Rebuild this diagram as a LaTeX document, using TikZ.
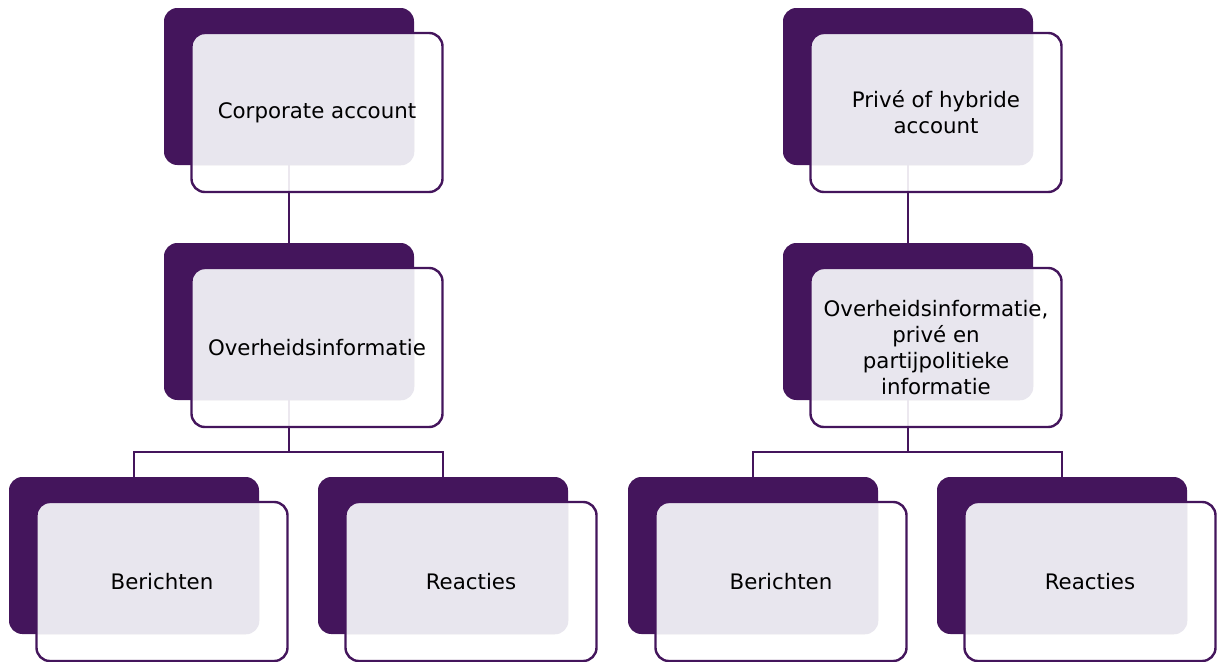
\documentclass[tikz,border=0pt]{standalone}
\usepackage{fontspec}
\setmainfont{DejaVu Sans}
\usepackage{xcolor}
\definecolor{paars}{RGB}{68,21,92}
\definecolor{lila}{RGB}{232,230,238}

\begin{document}
\begin{tikzpicture}[x=0.75pt,y=-0.75pt,
  back/.style={fill=paars, rounded corners=10pt, inner sep=0pt,
    minimum width=187.5pt, minimum height=117.75pt},
  front/.style={draw=paars, line width=1.8pt, fill=white, fill opacity=.9,
    text opacity=1, rounded corners=10pt, align=center,
    minimum width=188.25pt, minimum height=119.25pt,
    font=\fontsize{16}{19.5}\selectfont,
    path picture={\fill[lila, fill opacity=1, rounded corners=10pt]
      (#1.south west) rectangle (#1.north east);}},
  link/.style={draw=paars, line width=1.5pt}]
\def\dx{28}
\def\dy{26}
\useasboundingbox (0,0) rectangle (1218,661);
% achterste blokken
\node [back, name=b1] at (289,86.5) {};
\node [back, name=b2] at (289,321.5) {};
\node [back, name=b3] at (134,555.5) {};
\node [back, name=b4] at (443,555.5) {};
\node [back, name=b5] at (908,86.5) {};
\node [back, name=b6] at (908,321.5) {};
\node [back, name=b7] at (753,555.5) {};
\node [back, name=b8] at (1062,555.5) {};
% lijnen
\draw [link] (b1.south) -- (b2.north);
\draw [link] (b2.south) -- ++(0,52) coordinate (j1);
\draw [link] (b3.north) |- (j1) -| (b4.north);
\draw [link] (b5.south) -- (b6.north);
\draw [link] (b6.south) -- ++(0,52) coordinate (j2);
\draw [link] (b7.north) |- (j2) -| (b8.north);
% voorste blokken
\node [front=b1, name=f1] at ([shift={(\dx,\dy)}]b1.center) {Corporate account};
\node [front=b2, name=f2] at ([shift={(\dx,\dy)}]b2.center) {Overheidsinformatie};
\node [front=b3, name=f3] at ([shift={(\dx,\dy)}]b3.center) {Berichten};
\node [front=b4, name=f4] at ([shift={(\dx,\dy)}]b4.center) {Reacties};
\node [front=b5, name=f5] at ([shift={(\dx,\dy)}]b5.center) {Privé of hybride\\account};
\node [front=b6, name=f6] at ([shift={(\dx,\dy)}]b6.center) {Overheidsinformatie,\\privé en\\partijpolitieke\\informatie};
\node [front=b7, name=f7] at ([shift={(\dx,\dy)}]b7.center) {Berichten};
\node [front=b8, name=f8] at ([shift={(\dx,\dy)}]b8.center) {Reacties};
\end{tikzpicture}
\end{document}
